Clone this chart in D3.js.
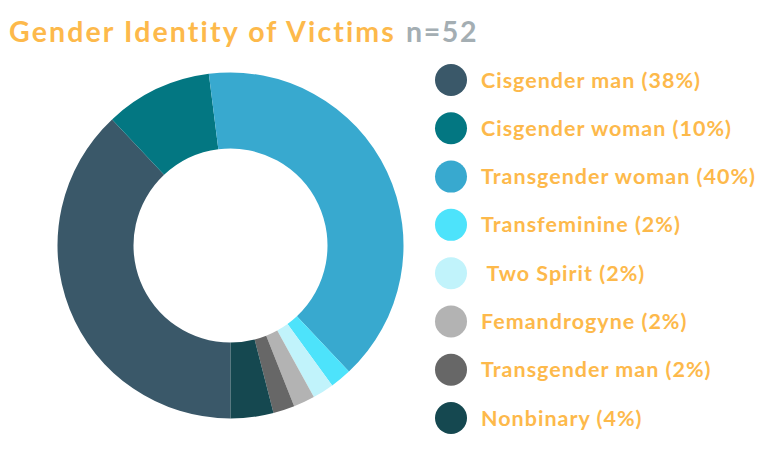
<!DOCTYPE html>
<html>
<head>
<meta charset="utf-8">
<script src="https://cdn.jsdelivr.net/npm/d3@7"></script>
<style>
  html, body { margin: 0; padding: 0; background: #ffffff; }
  svg { display: block; }
  text { font-family: Lato, "Open Sans", sans-serif; font-weight: 700; }
</style>
</head>
<body>
<svg id="chart" width="781" height="455"></svg>
<script>
// Gender identity of victims, percentage of n = 52
const categories = ["Cisgender man", "Cisgender woman", "Transgender woman", "Transfeminine",
                    "Two Spirit", "Femandrogyne", "Transgender man", "Nonbinary"];
const percents = [38, 10, 40, 2, 2, 2, 2, 4];
const colors = ["#3a5869", "#037782", "#38a9cf", "#4de3fb",
                "#c1f3fb", "#b3b3b3", "#676767", "#154850"];
const legendLabels = ["Cisgender man (38%)", "Cisgender woman (10%)", "Transgender woman (40%)",
                      "Transfeminine (2%)", "\u00a0Two Spirit (2%)", "Femandrogyne (2%)",
                      "Transgender man (2%)", "Nonbinary (4%)"];
const titleText = "Gender Identity of Victims";
const sampleText = "n=52";

const orange = "#fdb94b";
const svg = d3.select("#chart");

// Stretch a text's tracking so that it spans the given width
function fitSpacing(sel, width) {
  const n = sel.text().length;
  const w = sel.node().getComputedTextLength();
  sel.attr("letter-spacing", (width - w) / n);
}

// Title
const title = svg.append("text")
  .attr("x", 9).attr("y", 42)
  .attr("font-size", 28.5)
  .attr("fill", orange)
  .text(titleText);
fitSpacing(title, 388);
const sample = svg.append("text")
  .attr("x", 406).attr("y", 42)
  .attr("font-size", 28.5)
  .attr("fill", "#a4aeb3")
  .text(sampleText);
fitSpacing(sample, 72);

// Donut
const data = categories.map((c, i) => ({ name: c, value: percents[i], color: colors[i] }));
const pie = d3.pie().sort(null).value(d => d.value)
  .startAngle(Math.PI).endAngle(3 * Math.PI);
const arc = d3.arc().innerRadius(97).outerRadius(173);

svg.append("g")
  .attr("transform", "translate(230.5,245.5)")
  .selectAll("path")
  .data(pie(data))
  .join("path")
  .attr("d", arc)
  .attr("fill", d => d.data.color);

// Legend
const y = d3.scalePoint().domain(categories).range([80, 418]);
const legend = svg.append("g");
const rows = legend.selectAll("g")
  .data(data)
  .join("g")
  .attr("transform", d => `translate(0,${y(d.name)})`);
rows.append("circle")
  .attr("cx", 451).attr("cy", 0).attr("r", 16)
  .attr("fill", d => d.color);
const labels = rows.append("text")
  .attr("x", 481).attr("y", 0)
  .attr("dy", "0.35em")
  .attr("font-size", 21.5)
  .attr("fill", orange)
  .text((d, i) => legendLabels[i]);
const lw = labels.nodes()[0].getComputedTextLength();
labels.attr("letter-spacing", (220 - lw) / legendLabels[0].length);
</script>
</body>
</html>
